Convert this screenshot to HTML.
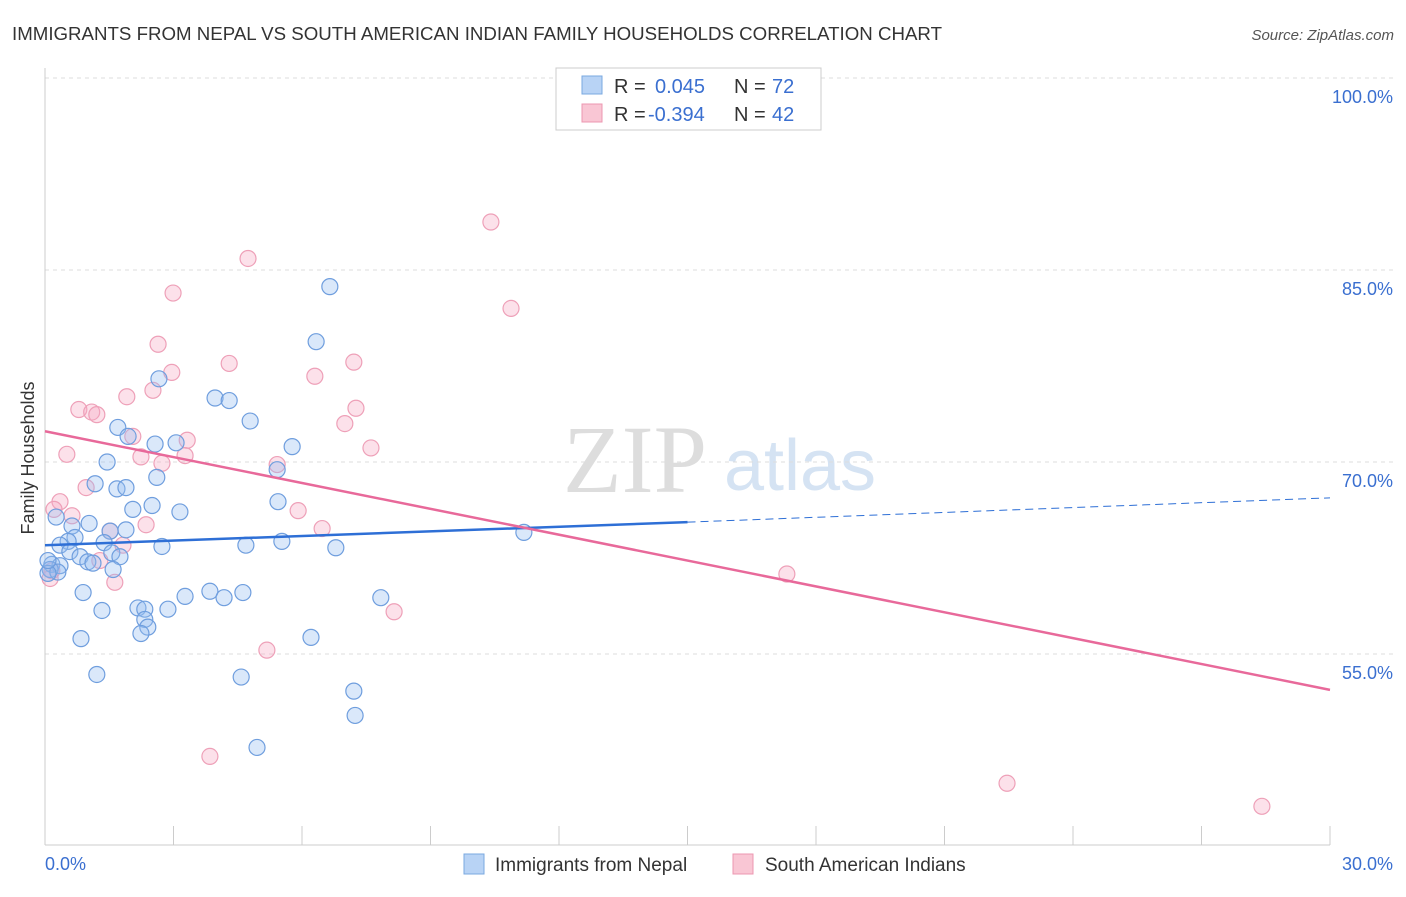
<!DOCTYPE html>
<html><head><meta charset="utf-8"><style>
body{margin:0;background:#fff;font-family:"Liberation Sans",sans-serif}
</style></head><body>
<svg width="1406" height="892" xmlns="http://www.w3.org/2000/svg" id="chart" font-family="Liberation Sans, sans-serif">
<text x="12" y="40" font-size="18" fill="#333" textLength="930" lengthAdjust="spacingAndGlyphs">IMMIGRANTS FROM NEPAL VS SOUTH AMERICAN INDIAN FAMILY HOUSEHOLDS CORRELATION CHART</text>
<text x="1394" y="40" font-size="15" fill="#555" text-anchor="end" font-style="italic">Source: ZipAtlas.com</text>
<text x="34" y="458" font-size="18" fill="#333" text-anchor="middle" transform="rotate(-90 34 458)">Family Households</text>
<text x="635" y="492" font-size="96" fill="#ddd" font-family="Liberation Serif, serif" text-anchor="middle">ZIP</text>
<text x="800" y="490" font-size="72" fill="#d5e3f3" text-anchor="middle">atlas</text>
<g id="grid"></g><g id="axes"></g><g id="pts"></g><g id="lines"></g>
<g>
<rect x="556" y="68" width="265" height="62" fill="#fff" stroke="#ccc"/>
<rect x="582" y="76" width="20" height="18" fill="#b8d3f5" stroke="#7aa8e0"/>
<text x="614" y="93" font-size="20" fill="#333">R = </text><text x="655" y="93" font-size="20" fill="#3a6fd0">0.045</text>
<text x="734" y="93" font-size="20" fill="#333">N = </text><text x="772" y="93" font-size="20" fill="#3a6fd0">72</text>
<rect x="582" y="104" width="20" height="18" fill="#f9c6d4" stroke="#ec97b0"/>
<text x="614" y="121" font-size="20" fill="#333">R = </text><text x="648" y="121" font-size="20" fill="#3a6fd0">-0.394</text>
<text x="734" y="121" font-size="20" fill="#333">N = </text><text x="772" y="121" font-size="20" fill="#3a6fd0">42</text>
</g>
<g>
<rect x="464" y="854" width="20" height="20" fill="#b8d3f5" stroke="#7aa8e0"/>
<text x="495" y="871" font-size="19" fill="#333">Immigrants from Nepal</text>
<rect x="733" y="854" width="20" height="20" fill="#f9c6d4" stroke="#ec97b0"/>
<text x="765" y="871" font-size="19" fill="#333">South American Indians</text>
</g>
</svg>
<script>
const blueX=[6.65,6.33,2.66,3.97,4.30,4.79,1.70,1.94,2.57,3.06,5.77,1.45,2.61,5.42,1.17,1.68,1.89,2.50,5.44,2.05,3.15,0.26,1.03,0.63,1.52,1.89,11.18,0.70,0.54,0.35,1.38,2.73,4.69,5.53,6.79,0.58,0.82,1.56,1.75,1.00,1.12,0.16,0.35,0.12,0.30,0.07,1.59,0.89,3.85,3.27,4.18,4.62,7.84,2.17,2.33,2.87,1.33,2.33,2.40,2.24,0.84,6.21,1.21,4.58,7.21,7.24,4.95,0.07];
const blueY=[83.7,79.4,76.5,75.0,74.8,73.2,72.7,72.0,71.4,71.5,71.2,70.0,68.8,69.4,68.3,67.9,68.0,66.6,66.9,66.3,66.1,65.7,65.2,65.0,64.6,64.7,64.5,64.1,63.8,63.5,63.7,63.4,63.5,63.8,63.3,63.0,62.6,62.9,62.6,62.2,62.1,62.0,61.9,61.6,61.4,61.3,61.6,59.8,59.9,59.5,59.4,59.8,59.4,58.6,58.5,58.5,58.4,57.7,57.1,56.6,56.2,56.3,53.4,53.2,52.1,50.2,47.7,62.3];
const pinkX=[10.41,4.74,2.99,10.88,2.64,4.30,7.21,2.96,6.30,2.52,1.91,0.79,1.09,1.21,7.26,7.00,3.32,2.05,7.61,0.51,2.24,3.27,2.73,5.42,0.96,0.35,0.21,0.63,5.91,2.36,6.47,1.52,1.82,1.28,0.16,0.12,1.63,17.32,8.15,5.18,3.85,22.46,28.41];
const pinkY=[88.75,85.9,83.2,82.0,79.2,77.7,77.8,77.0,76.7,75.6,75.1,74.1,73.9,73.7,74.2,73.0,71.7,72.0,71.1,70.6,70.4,70.5,69.9,69.8,68.0,66.9,66.3,65.8,66.2,65.1,64.8,64.6,63.5,62.3,61.5,60.9,60.6,61.25,58.3,55.3,47.0,44.9,43.1];
const yTicks=[100,85,70,55];
const yTickLabels=["100.0%","85.0%","70.0%","55.0%"];
const blueTrend=[63.5,65.3,67.2];
const pinkTrend=[72.4,52.2];
const X=v=>45+v/30*1285, Y=v=>78+(100-v)*12.8;
const NS="http://www.w3.org/2000/svg";
function mk(p,t,a){const e=document.createElementNS(NS,t);for(const k in a)e.setAttribute(k,a[k]);document.getElementById(p).appendChild(e);return e;}
yTicks.forEach((t,i)=>{
 const g=mk('grid','line',{x1:45,x2:1394,y1:Y(t),y2:Y(t),stroke:'#ddd','stroke-dasharray':'4,4'});
 
 
 const l=mk('axes','text',{x:1393,y:Y(t)+25,'font-size':18,fill:'#3a6fd0','text-anchor':'end'});l.textContent=yTickLabels[i];
 
 
});
const ax=mk('axes','line',{x1:45,x2:45,y1:68,y2:845,stroke:'#ccc'});


const bx=mk('axes','line',{x1:45,x2:1330,y1:845,y2:845,stroke:'#ccc'});


for(let i=0;i<=10;i++){const t=mk('axes','line',{x1:X(i*3),x2:X(i*3),y1:826,y2:845,stroke:'#ccc'});
 
 }
let a=mk('axes','text',{x:45,y:870,'font-size':18,fill:'#3a6fd0'});a.textContent='0.0%';


a=mk('axes','text',{x:1393,y:870,'font-size':18,fill:'#3a6fd0','text-anchor':'end'});a.textContent='30.0%';


pinkX.forEach((x,i)=>{const c=mk('pts','circle',{cx:X(x),cy:Y(pinkY[i]),r:8,fill:'rgba(246,170,195,0.35)',stroke:'#eea0b8','stroke-width':1.2});
 
 });
blueX.forEach((x,i)=>{const c=mk('pts','circle',{cx:X(x),cy:Y(blueY[i]),r:8,fill:'rgba(150,190,240,0.35)',stroke:'#6f9ede','stroke-width':1.2});
 
 });
let l=mk('lines','line',{x1:X(0),y1:Y(blueTrend[0]),x2:X(15),y2:Y(blueTrend[1]),stroke:'#2e6fd6','stroke-width':2.5});


l=mk('lines','line',{x1:X(15),y1:Y(blueTrend[1]),x2:X(30),y2:Y(blueTrend[2]),stroke:'#2e6fd6','stroke-width':1,'stroke-dasharray':'8,5'});


l=mk('lines','line',{x1:X(0),y1:Y(pinkTrend[0]),x2:X(30),y2:Y(pinkTrend[1]),stroke:'#e8699a','stroke-width':2.5});


</script>
</body></html>
